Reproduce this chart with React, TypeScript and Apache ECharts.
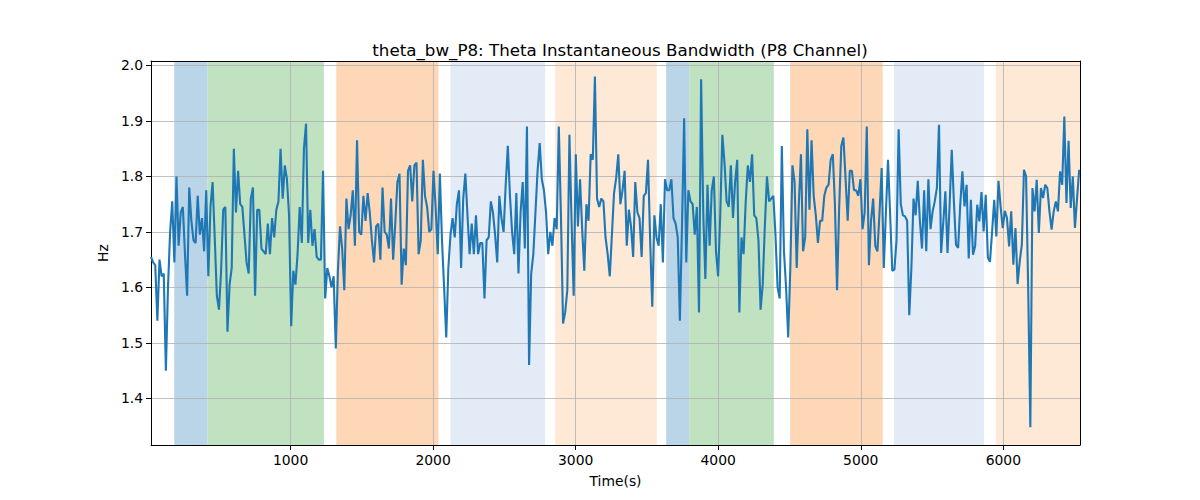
import { useEffect, useRef } from "react";
import * as echarts from "echarts";

const TITLE = "theta_bw_P8: Theta Instantaneous Bandwidth (P8 Channel)";
const X_NAME = "Time(s)";
const Y_NAME = "Hz";

const T_START = 21;
const T_STEP = 14.9;
const X_MIN = 21;
const X_MAX = 6538;
const Y_MIN = 1.316;
const Y_MAX = 2.008;
const X_TICKS = [1000, 2000, 3000, 4000, 5000, 6000];
const Y_TICKS = [1.4, 1.5, 1.6, 1.7, 1.8, 1.9, 2.0];

// bandwidth samples, read left to right
const BANDWIDTH = [
  1.655, 1.645, 1.64, 1.54, 1.65, 1.62, 1.625, 1.45, 1.6, 1.7,
  1.755, 1.645, 1.8, 1.675, 1.735, 1.745, 1.66, 1.585, 1.78, 1.72,
  1.685, 1.68, 1.765, 1.695, 1.725, 1.665, 1.775, 1.62, 1.745, 1.79,
  1.69, 1.585, 1.56, 1.63, 1.74, 1.745, 1.52, 1.605, 1.635, 1.85,
  1.735, 1.81, 1.75, 1.745, 1.695, 1.645, 1.625, 1.76, 1.78, 1.585,
  1.74, 1.74, 1.67, 1.665, 1.66, 1.715, 1.66, 1.725, 1.69, 1.74,
  1.755, 1.85, 1.76, 1.82, 1.795, 1.73, 1.53, 1.63, 1.605, 1.66,
  1.745, 1.68, 1.85, 1.895, 1.68, 1.74,
  1.675, 1.705, 1.655, 1.65, 1.65, 1.81, 1.58, 1.635, 1.62, 1.6,
  1.62, 1.49, 1.63, 1.71, 1.67, 1.595, 1.76, 1.705, 1.73, 1.775,
  1.675, 1.865, 1.7, 1.695, 1.765, 1.72, 1.77, 1.735, 1.685, 1.645,
  1.71, 1.715, 1.65, 1.78, 1.7, 1.695, 1.67, 1.76, 1.65, 1.715,
  1.79, 1.805, 1.605, 1.67, 1.64, 1.81, 1.82, 1.755, 1.82, 1.825,
  1.66, 1.685, 1.83, 1.765, 1.745, 1.7, 1.705, 1.81, 1.745, 1.66,
  1.805, 1.685, 1.6, 1.51, 1.635, 1.695, 1.725, 1.69, 1.75, 1.775,
  1.635, 1.76, 1.805,
  1.73, 1.66, 1.715, 1.66, 1.73, 1.66, 1.68, 1.68, 1.58, 1.685,
  1.69, 1.755, 1.735, 1.695, 1.645, 1.765, 1.725, 1.7, 1.785, 1.855,
  1.765, 1.7, 1.66, 1.77, 1.625, 1.735, 1.79, 1.67, 1.89, 1.46,
  1.625, 1.66, 1.735, 1.81, 1.86, 1.795, 1.775, 1.735, 1.66, 1.7,
  1.675, 1.725, 1.705, 1.89, 1.73, 1.535, 1.555, 1.595, 1.875, 1.72,
  1.585, 1.84, 1.71, 1.795, 1.705, 1.63, 1.75, 1.72, 1.84, 1.83,
  1.98, 1.76, 1.745, 1.76, 1.755, 1.69, 1.66, 1.62, 1.695, 1.77,
  1.797, 1.84, 1.75, 1.775,
  1.81, 1.675, 1.74, 1.71, 1.655, 1.79, 1.735, 1.725, 1.655, 1.765,
  1.77, 1.83, 1.685, 1.565, 1.73, 1.69, 1.675, 1.75, 1.645, 1.795,
  1.775, 1.775, 1.795, 1.725, 1.715, 1.69, 1.54, 1.71, 1.905, 1.645,
  1.775, 1.755, 1.75, 1.695, 1.745, 1.555, 1.975, 1.735, 1.615, 1.785,
  1.675, 1.775, 1.8, 1.665, 1.62, 1.73, 1.875, 1.825, 1.755, 1.745,
  1.82, 1.725, 1.79, 1.83, 1.555, 1.69, 1.66, 1.755, 1.82, 1.79,
  1.84, 1.73, 1.725, 1.685, 1.56, 1.605, 1.71, 1.8, 1.755, 1.76,
  1.765, 1.695,
  1.6, 1.58, 1.855, 1.665, 1.6, 1.51, 1.635, 1.82, 1.79, 1.635,
  1.75, 1.84, 1.665, 1.69, 1.885, 1.74, 1.865, 1.765, 1.73, 1.68,
  1.72, 1.72, 1.765, 1.78, 1.785, 1.83, 1.84, 1.75, 1.595, 1.745,
  1.855, 1.87, 1.797, 1.72, 1.81, 1.81, 1.775, 1.775, 1.765, 1.795,
  1.705, 1.735, 1.89, 1.64, 1.72, 1.76, 1.675, 1.665, 1.735, 1.815,
  1.635, 1.735, 1.83, 1.73, 1.63, 1.632, 1.685, 1.885, 1.75, 1.73,
  1.728, 1.72, 1.55, 1.635, 1.76, 1.73, 1.792, 1.72, 1.67, 1.775,
  1.665, 1.795, 1.705,
  1.737, 1.755, 1.779, 1.893, 1.662, 1.716, 1.773, 1.662, 1.749, 1.848,
  1.755, 1.677, 1.671, 1.749, 1.809, 1.746, 1.785, 1.652, 1.758, 1.659,
  1.674, 1.749, 1.719, 1.772, 1.701, 1.767, 1.654, 1.646, 1.701, 1.758,
  1.692, 1.792, 1.746, 1.707, 1.738, 1.725, 1.674, 1.737, 1.641, 1.707,
  1.606, 1.647, 1.677, 1.812, 1.8, 1.596, 1.348, 1.779, 1.737, 1.794,
  1.698, 1.779, 1.761, 1.785, 1.779, 1.737, 1.704, 1.737, 1.755, 1.737,
  1.809, 1.785, 1.908, 1.752, 1.864, 1.743, 1.8, 1.707, 1.761, 1.812,
];

// shaded state intervals [start, end, colour]
const SPANS: [number, number, string][] = [
  [184, 418, "#bbd5e8"],
  [418, 1234, "#c0e2c0"],
  [1321, 2038, "#fed8b6"],
  [2122, 2786, "#e3ebf7"],
  [2856, 3569, "#fee9d6"],
  [3635, 3796, "#bbd5e8"],
  [3796, 4390, "#c0e2c0"],
  [4504, 5154, "#fed8b6"],
  [5233, 5864, "#e3ebf7"],
  [5948, 6538, "#fee9d6"],
];

const FONT = "DejaVu Sans";

export default function App() {
  const ref = useRef<HTMLDivElement | null>(null);

  useEffect(() => {
    if (!ref.current) return;
    const chart = echarts.init(ref.current, undefined, { renderer: "svg" });
    const points = BANDWIDTH.map((v, i) => [T_START + i * T_STEP, v]);
    const tickLabel = { color: "#000", fontSize: 13.9, fontFamily: FONT, margin: 8 };
    const gridLine = { show: true, lineStyle: { color: "#b0b0b0", width: 0.8 } };
    const spine = { show: true, onZero: false, lineStyle: { color: "#000", width: 1 } };
    chart.setOption({
      animation: false,
      backgroundColor: "#fff",
      title: {
        text: TITLE,
        left: 615,
        textAlign: "center",
        top: 36,
        textStyle: { color: "#000", fontSize: 16.7, fontWeight: "normal", fontFamily: FONT },
      },
      grid: { left: 151, right: 120, top: 61, bottom: 55, outerBoundsMode: "none" },
      xAxis: [
        {
          type: "value",
          min: X_MIN,
          max: X_MAX,
          z: 2,
          name: X_NAME,
          nameLocation: "middle",
          nameGap: 29,
          nameTextStyle: { color: "#000", fontSize: 13.9, fontFamily: FONT },
          axisLine: spine,
          axisTick: { show: true, length: 5, customValues: X_TICKS, lineStyle: { color: "#000" } },
          axisLabel: { ...tickLabel, customValues: X_TICKS, formatter: (v: number) => String(v) },
          splitLine: gridLine,
        },
        {
          type: "value",
          position: "top",
          min: X_MIN,
          max: X_MAX,
          z: 2,
          axisLine: spine,
          axisTick: { show: false },
          axisLabel: { show: false },
          splitLine: { show: false },
        },
      ],
      yAxis: [
        {
          type: "value",
          min: Y_MIN,
          max: Y_MAX,
          z: 2,
          name: Y_NAME,
          nameLocation: "middle",
          nameGap: 36,
          nameTextStyle: { color: "#000", fontSize: 13.9, fontFamily: FONT },
          axisLine: spine,
          axisTick: { show: true, length: 5, customValues: Y_TICKS, lineStyle: { color: "#000" } },
          axisLabel: { ...tickLabel, customValues: Y_TICKS, formatter: (v: number) => v.toFixed(1) },
          splitLine: gridLine,
        },
        {
          type: "value",
          position: "right",
          min: Y_MIN,
          max: Y_MAX,
          z: 2,
          axisLine: spine,
          axisTick: { show: false },
          axisLabel: { show: false },
          splitLine: { show: false },
        },
      ],
      series: [
        {
          type: "line",
          data: points,
          z: 3,
          symbol: "none",
          silent: true,
          lineStyle: { color: "#1f77b4", width: 2.1 },
          markArea: {
            silent: true,
            z: 1,
            data: SPANS.map(([s, e, c]) => [
              { xAxis: s, itemStyle: { color: c } },
              { xAxis: e },
            ]),
          },
        },
      ],
    });
    return () => chart.dispose();
  }, []);

  return (
    <div
      ref={ref}
      style={{ position: "fixed", left: 0, top: 0, width: 1200, height: 500 }}
    />
  );
}
